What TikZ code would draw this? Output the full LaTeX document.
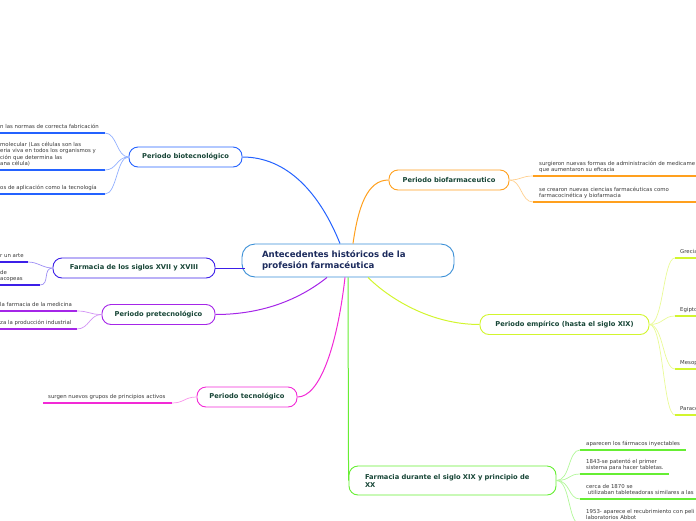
\documentclass[tikz,border=0pt]{standalone}
\usepackage{fontspec}
\setmainfont{DejaVu Sans}
\usetikzlibrary{
  calc, % Fuer Koordinatenrechnung
  positioning
}

% Farben
\definecolor{zentrum}{HTML}{3A8FD6}
\definecolor{titel}{HTML}{1B2A5C}
\definecolor{knoten}{HTML}{174536}
\definecolor{blatttext}{HTML}{3A3A3A}
\definecolor{blau}{HTML}{2462FF}
\definecolor{orangeast}{HTML}{FFA01E}
\definecolor{violett}{HTML}{3C1FE8}
\definecolor{lila}{HTML}{A526E8}
\definecolor{gelb}{HTML}{D2F52E}
\definecolor{rosa}{HTML}{F22AD6}
\definecolor{gruen}{HTML}{66EE33}

\begin{document}
\begin{tikzpicture}[
    x=1pt, y=-1pt, % Pixel-Koordinaten, y nach unten
    thema/.style={draw=#1, line width=0.9pt, rounded corners=9pt, text=knoten,
      font=\fontsize{6.7}{8}\selectfont\bfseries, minimum height=20pt}, % Hauptknoten
    ast/.style={#1, line width=1pt}, % Hauptaeste
    zweig/.style={#1!50, line width=0.7pt}, % Zweige zu den Blaettern
    linie/.style={#1, line width=1.5pt}, % Unterstriche
    blatt/.style={text=blatttext, font=\fontsize{5.4}{6.6}\selectfont, inner sep=0pt,
      align=left, text depth=1pt, anchor=south west}, % Blatttexte
  ]

  % Rahmen
  \useasboundingbox (0,0) rectangle (696,520);

  % Zentrum
  \node[draw=zentrum, line width=0.9pt, rounded corners=13pt, minimum width=212pt,
    minimum height=33pt, text width=172pt, align=left, text=titel,
    font=\fontsize{8.6}{10.5}\selectfont\bfseries] (mitte) at (348,260.5)
    {Antecedentes históricos de la\\profesión farmacéutica};

  % Hauptknoten
  \node[thema=blau, minimum width=113pt] (bio) at (185.5,157) {Periodo biotecnológico};
  \node[thema=orangeast, minimum width=120pt] (biofarma) at (449,180) {Periodo biofarmaceutico};
  \node[thema=violett, minimum width=162pt] (siglo) at (134,268) {Farmacia de los siglos XVII y XVIII};
  \node[thema=lila, minimum width=113pt] (pretec) at (158.5,314.5) {Periodo pretecnológico};
  \node[thema=gelb, minimum width=169pt] (empirico) at (564.5,324.5) {Periodo empírico (hasta el siglo XIX)};
  \node[thema=rosa, minimum width=100pt] (tec) at (247,397) {Periodo tecnológico};
  \node[thema=gruen, minimum width=207pt, minimum height=29pt, text width=175pt,
    align=left] (xix) at (452.5,480.5) {Farmacia durante el siglo XIX y principio de\\XX};

  % Hauptaeste
  \draw[ast=blau] ([xshift=-8pt]mitte.north) .. controls +(-20,-50) and +(45,0) .. (bio.east);
  \draw[ast=orangeast] ([xshift=5pt]mitte.north) .. controls +(5,-35) and +(-22,0) .. (biofarma.west);
  \draw[ast=violett, shorten <=-3pt] (mitte.west |- siglo.east) -- (siglo.east);
  \draw[ast=lila] ([xshift=-21pt]mitte.south) .. controls +(-25,20) and +(50,0) .. (pretec.east);
  \draw[ast=gelb] ([xshift=20pt]mitte.south) .. controls +(20,20) and +(-50,0) .. (empirico.west);
  \draw[ast=rosa] ([xshift=-3pt]mitte.south) .. controls +(-8,70) and +(22,0) .. (tec.east);
  \draw[ast=gruen] (mitte.south) -- (xix.west);

  % Blaetter: biotecnologico
  \foreach \n/\y in {1/133, 2/170, 3/194} {
    \coordinate (bio\n) at (105,\y);
    \coordinate (bioL\n) at (0,\y);
    \draw[zweig=blau] (bio.west) .. controls +(-12,0) and +(12,0) .. (bio\n);
    \draw[linie=blau] (bio\n) -- (bioL\n);
  }
  \node[blatt] (bioT1) at (0,130) {n las normas de correcta fabricación};
  \node[blatt] (bioT2) at (0,167) {molecular (Las células son las\\eria viva en todos los organismos y\\ción que determina las\\ana célula)};
  \node[blatt] (bioT3) at (0,191) {os de aplicación como la tecnología};

  % Blaetter: biofarmaceutico
  \foreach \n/\y in {1/176, 2/202} {
    \coordinate (bf\n) at (533,\y);
    \coordinate (bfR\n) at (696,\y);
    \draw[zweig=orangeast] (biofarma.east) .. controls +(12,0) and +(-12,0) .. (bf\n);
    \draw[linie=orangeast] (bf\n) -- (bfR\n);
  }
  \node[blatt] (bfT1) at (539,173) {surgieron nuevas formas de administración de medicame\\que aumentaron su eficacia};
  \node[blatt] (bfT2) at (539,199) {se crearon nuevas ciencias farmacéuticas como\\farmacocinética y biofarmacia};

  % Blaetter: siglos XVII y XVIII
  \foreach \n/\x/\y in {1/28/262, 2/40/285} {
    \coordinate (sg\n) at (\x,\y);
    \coordinate (sgL\n) at (0,\y);
    \draw[zweig=violett] (siglo.west) .. controls +(-10,0) and +(10,0) .. (sg\n);
    \draw[linie=violett] (sg\n) -- (sgL\n);
  }
  \node[blatt] (sgT1) at (0,259) {r un arte};
  \node[blatt] (sgT2) at (0,282) {de\\acopeas};

  % Blaetter: pretecnologico
  \foreach \n/\y in {1/311, 2/329} {
    \coordinate (pt\n) at (77,\y);
    \coordinate (ptL\n) at (0,\y);
    \draw[zweig=lila] (pretec.west) .. controls +(-12,0) and +(12,0) .. (pt\n);
    \draw[linie=lila] (pt\n) -- (ptL\n);
  }
  \node[blatt] (ptT1) at (0,308) {la farmacia de la medicina};
  \node[blatt] (ptT2) at (0,326) {za la producción industrial};

  % Blaetter: empirico
  \foreach \n/\y/\txt in {1/258/Grecia, 2/316/Egipto, 3/369/Mesop, 4/415/Parace} {
    \coordinate (em\n) at (675,\y);
    \coordinate (emR\n) at (696,\y);
    \draw[zweig=gelb] (empirico.east) .. controls +(14,0) and +(-12,0) .. (em\n);
    \draw[linie=gelb] (em\n) -- (emR\n);
    \node[blatt] (emT\n) at (680,\y-3) {\txt};
  }

  % Blatt: tecnologico
  \coordinate (tc1) at (172,403);
  \coordinate (tcL1) at (43,403);
  \draw[zweig=rosa] (tec.west) .. controls +(-12,0) and +(12,0) .. (tc1);
  \draw[linie=rosa] (tc1) -- (tcL1);
  \node[blatt] (tcT1) at (48,400) {surgen nuevos grupos de principios activos};

  % Blaetter: siglo XIX
  \foreach \n/\x/\y in {1/686/450, 2/669/474, 3/696/499, 4/696/524} {
    \coordinate (xx\n) at (580,\y);
    \coordinate (xxR\n) at (\x,\y);
    \draw[zweig=gruen] (xix.east) .. controls +(14,0) and +(-12,0) .. (xx\n);
    \draw[linie=gruen] (xx\n) -- (xxR\n);
  }
  \node[blatt] (xxT1) at (586,447) {aparecen los fármacos inyectables};
  \node[blatt] (xxT2) at (586,471) {1843-se patentó el primer\\sistema para hacer tabletas.};
  \node[blatt] (xxT3) at (586,496) {cerca de 1870 se\\\ utilizaban tableteadoras similares a las};
  \node[blatt] (xxT4) at (586,521) {1953- aparece el recubrimiento con peli\\laboratorios Abbot};
\end{tikzpicture}
\end{document}
